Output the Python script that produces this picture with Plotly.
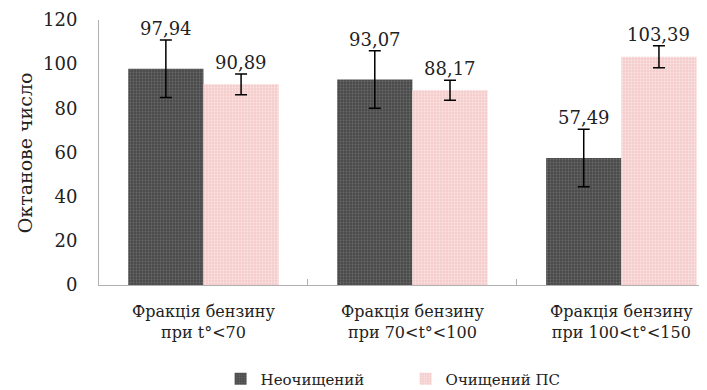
import plotly.graph_objects as go

# data
categories = ["Фракція бензину<br>при t°<70", "Фракція бензину<br>при 70<t°<100", "Фракція бензину<br>при 100<t°<150"]
raw_values = [97.94, 93.07, 57.49]
raw_err = [13.0, 13.0, 13.0]
clean_values = [90.89, 88.17, 103.39]
clean_err = [4.7, 4.5, 5.0]

font_family = "DejaVu Serif"

fig = go.Figure()

fig.add_trace(go.Bar(
    x=categories, y=raw_values, name="Неочищений",
    marker=dict(color="#505050", line=dict(width=0),
                pattern=dict(shape=".", fgcolor="#8a8a8a", bgcolor="#4a4a4a", size=3, solidity=0.3)),
    error_y=dict(type="data", array=raw_err, color="black", thickness=1.5, width=6),
))
fig.add_trace(go.Bar(
    x=categories, y=clean_values, name="Очищений ПС",
    marker=dict(color="#f7d3d3", line=dict(width=0),
                pattern=dict(shape=".", fgcolor="#ffffff", bgcolor="#f5cccc", size=3, solidity=0.3)),
    error_y=dict(type="data", array=clean_err, color="black", thickness=1.5, width=6),
))

# value labels above the error bars
for i in range(len(categories)):
    for off, v, e in [(-0.18, raw_values[i], raw_err[i]), (0.18, clean_values[i], clean_err[i])]:
        fig.add_annotation(
            x=i + off, y=v + e, xref="x", yref="y",
            text=f"{v:.2f}".replace(".", ","), showarrow=False,
            yanchor="bottom", yshift=-1,
            font=dict(family=font_family, size=18, color="#222222"),
        )

# y axis title as annotation so it can be placed exactly
fig.add_annotation(
    x=-0.122, y=0.5, xref="paper", yref="paper", text="Октанове число",
    textangle=-90, showarrow=False, xanchor="center", yanchor="middle",
    font=dict(family=font_family, size=19, color="#222222"),
)

# page has an 8px body margin, so the figure is drawn 8px smaller
fig.update_layout(
    width=699, height=382,
    margin=dict(l=91, r=0, t=12, b=105, autoexpand=False),
    paper_bgcolor="white", plot_bgcolor="white",
    barmode="group", bargap=0.28, bargroupgap=0,
    font=dict(family=font_family, size=15, color="#222222"),
    legend=dict(orientation="h", x=0.2, xanchor="left", y=-0.355, yanchor="middle",
                font=dict(family=font_family, size=15), itemwidth=30, tracegroupgap=0,
                entrywidth=140, entrywidthmode="pixels"),
    showlegend=True,
)
fig.update_xaxes(
    range=[-0.5, 2.41], automargin=False,
    showline=True, linecolor="#b0b0b0", linewidth=1,
    ticks="inside", tickson="boundaries", ticklen=6, tickcolor="#b0b0b0",
    tickfont=dict(family=font_family, size=16), showgrid=False, ticklabelstandoff=12,
)
fig.update_yaxes(
    range=[0, 120], dtick=20, automargin=False,
    showline=True, linecolor="#b0b0b0", linewidth=1,
    showgrid=False, zeroline=False, ticks="", ticklabelstandoff=17,
    tickfont=dict(family=font_family, size=18),
)

fig.write_html("out.html")
